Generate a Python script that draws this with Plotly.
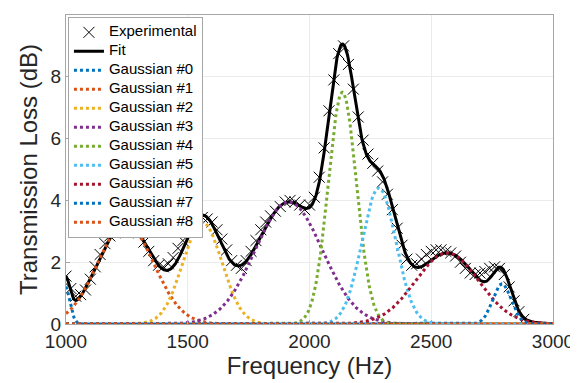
import numpy as np
import plotly.graph_objects as go

exp_freq = [1000, 1020, 1040, 1060, 1080, 1100, 1120, 1140, 1160, 1180,
            1200, 1220, 1240, 1260, 1280, 1300, 1320, 1340, 1360, 1380,
            1400, 1420, 1440, 1460, 1480, 1500, 1520, 1540, 1560, 1580,
            1600, 1620, 1640, 1660, 1680, 1700, 1720, 1740, 1760, 1780,
            1800, 1820, 1840, 1860, 1880, 1900, 1920, 1940, 1960, 1980,
            2000, 2020, 2040, 2060, 2080, 2100, 2120, 2140, 2160, 2180,
            2200, 2220, 2240, 2260, 2280, 2300, 2320, 2340, 2360, 2380,
            2400, 2420, 2440, 2460, 2480, 2500, 2520, 2540, 2560, 2580,
            2600, 2620, 2640, 2660, 2680, 2700, 2720, 2740, 2760, 2780,
            2800, 2820, 2840, 2860, 2880]
exp_tl = [1.55, 1.15, 0.9, 0.95, 1.1, 1.45, 1.85, 2.25, 2.6, 2.85,
          2.95, 3.0, 3.2, 3.3, 3.2, 2.95, 2.65, 2.35, 2.05, 1.9,
          1.85, 1.95, 2.15, 2.45, 2.7, 3.0, 3.15, 3.35, 3.45, 3.4,
          3.3, 3.05, 2.75, 2.4, 2.05, 1.9, 1.8, 2.05, 2.35, 2.7,
          3.05, 3.3, 3.5, 3.65, 3.8, 3.95, 4.0, 3.95, 3.85, 3.7,
          3.85, 4.1, 4.75, 5.7, 6.9, 7.9, 8.75, 9.0, 8.4, 7.6,
          6.7, 5.95, 5.5, 5.2, 4.95, 4.6, 4.2, 3.7, 3.1, 2.55,
          2.1, 1.9, 1.95, 2.1, 2.25, 2.35, 2.4, 2.4, 2.35, 2.3,
          2.2, 2.0, 1.8, 1.65, 1.6, 1.65, 1.7, 1.8, 1.85, 1.8,
          1.6, 1.2, 0.75, 0.4, 0.15]

# Gaussian fit parameters
g_center = [995, 1245, 1560, 1915, 2135, 2285, 2565, 2790, 2900]
g_amp = [1.25, 3.25, 3.3, 3.95, 7.5, 4.4, 2.3, 1.3, 0.0]
g_sigma = [20, 115, 80, 138, 58, 70, 130, 38, 50]

g_colors = ["#0072BD", "#D95319", "#EDB120", "#7E2F8E", "#77AC30",
            "#4DBEEE", "#A2142F", "#0072BD", "#D95319"]

f = np.linspace(1000, 3000, 801)
comps = [a * np.exp(-(f - c) ** 2 / (2 * s ** 2))
         for c, a, s in zip(g_center, g_amp, g_sigma)]
fit = np.sum(comps, axis=0)


def lg(text):
    return f'<span style="font-size:15px">{text}</span>'


fig = go.Figure()
fig.add_trace(go.Scatter(
    x=exp_freq, y=exp_tl, mode="markers", name=lg("Experimental"),
    marker=dict(symbol="x-thin-open", size=11, color="black",
                line=dict(width=1, color="black"))))
fig.add_trace(go.Scatter(
    x=f, y=fit, mode="lines", name=lg("Fit"),
    line=dict(color="black", width=3)))
for i, comp in enumerate(comps):
    fig.add_trace(go.Scatter(
        x=f, y=comp, mode="lines", name=lg(f"Gaussian #{i}"),
        line=dict(color=g_colors[i], width=3, dash="dot")))

axis_common = dict(
    showline=True, linecolor="#a6a6a6", linewidth=1, mirror=True,
    showgrid=True, gridcolor="#ebebeb", gridwidth=1,
    ticks="inside", ticklen=4, tickcolor="#a6a6a6",
    zeroline=False, automargin=False,
    tickfont=dict(size=19, color="#262626"),
)

# page body adds an 8 px offset; figure sized to fit the window
fig.update_layout(
    width=570, height=375,
    margin=dict(l=58, r=25, t=7, b=59),
    paper_bgcolor="white", plot_bgcolor="white",
    font=dict(family="Liberation Sans, Arial, sans-serif", color="#262626"),
    xaxis=dict(range=[1000, 3000], tickvals=[1000, 1500, 2000, 2500, 3000],
               title=dict(text="Frequency (Hz)", font=dict(size=24), standoff=2),
               **axis_common),
    yaxis=dict(range=[0, 10], tickvals=[0, 2, 4, 6, 8, 10],
               title=dict(text="Transmission Loss (dB)", font=dict(size=24), standoff=6),
               **axis_common),
    legend=dict(x=0.004, y=0.994, xanchor="left", yanchor="top",
                bgcolor="white", bordercolor="#a6a6a6", borderwidth=1,
                font=dict(size=9, color="black"), tracegroupgap=0,
                itemwidth=30),
    showlegend=True,
)

fig.write_html("out.html")
